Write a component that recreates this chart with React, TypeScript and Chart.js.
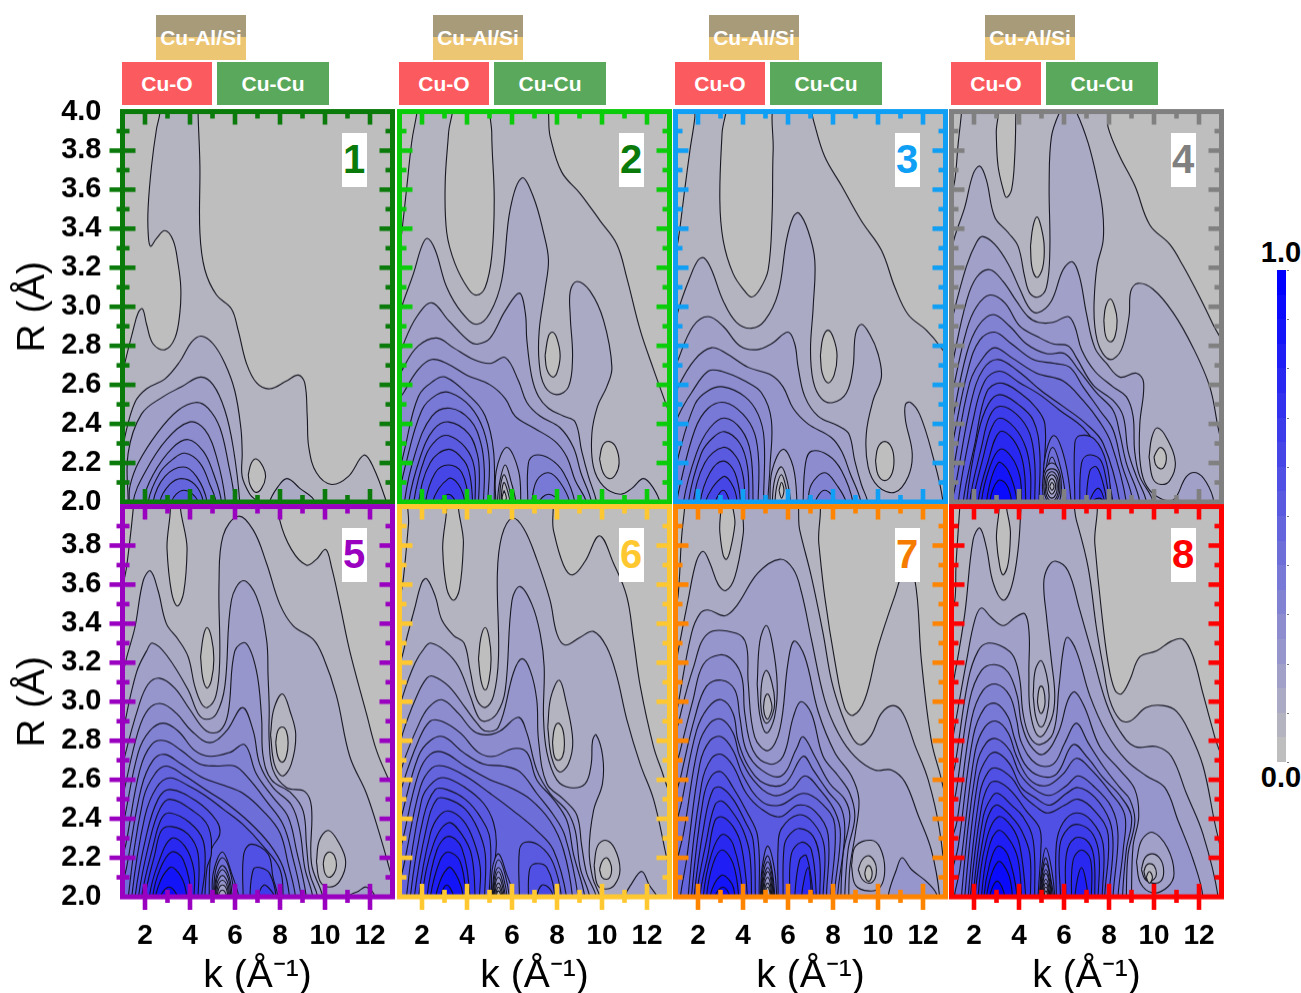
import React, { useEffect, useRef } from "react";
import { Chart, registerables } from "chart.js";
Chart.register(...registerables);

// each contour: [level, k, R, k, R, ...]; first pair repeated at the end = closed loop
const contours1: number[][] = [
[1,0.9,2.6,1.10,2.71,1.47,2.88,1.70,2.97,1.89,2.99,2.07,2.91,2.36,2.81,2.88,2.78,3.33,2.84,3.55,2.97,3.59,3.10,3.47,3.22,3.25,3.34,2.88,3.39,2.51,3.35,2.24,3.31,2.14,3.38,2.14,3.51,2.29,3.72,2.51,3.91,2.66,3.99,2.69,4.06,4.37,4.06,4.36,3.99,4.44,3.72,4.44,3.38,4.66,3.19,5.18,3.06,5.84,2.99,6.14,2.88,6.51,2.71,6.96,2.61,7.55,2.58,8.29,2.62,8.81,2.65,9.10,2.61,9.21,2.44,9.28,2.28,9.62,2.15,10.29,2.09,11.03,2.13,11.73,2.24,12.14,2.18,12.73,2.00,12.8,1.95],
[0,6.59,2.14,6.73,2.20,6.96,2.22,7.25,2.18,7.36,2.13,7.18,2.07,6.91,2.05,6.66,2.09,6.59,2.14],
[2,0.95,2.2,1.10,2.33,1.55,2.51,2.07,2.58,2.88,2.63,3.55,2.72,4.07,2.82,4.51,2.85,5.03,2.81,5.55,2.71,5.99,2.57,6.26,2.38,6.32,2.25,6.32,2.13,6.66,2.04,7.03,1.99],
[2,7.52,1.99,7.92,2.08,8.32,2.12,8.88,2.07,9.55,2.00],
[3,1.25,2.0,1.25,2.25,1.84,2.45,2.81,2.54,3.62,2.59,4.47,2.64,5.03,2.60,5.55,2.47,5.92,2.28,6.21,2.00],
[4,1.3,2.0,1.33,2.08,1.70,2.20,2.59,2.36,3.47,2.47,4.26,2.51,4.81,2.48,5.33,2.38,5.70,2.20,5.99,2.00],
[5,1.47,2.0,1.99,2.15,2.96,2.32,3.99,2.41,4.66,2.37,5.18,2.23,5.58,2.00],
[6,1.92,2.0,2.36,2.14,3.25,2.28,3.92,2.32,4.59,2.26,5.03,2.15,5.40,2.00],
[7,2.14,2.0,2.66,2.15,3.25,2.22,3.77,2.25,4.44,2.20,4.88,2.09,5.15,2.00],
[8,2.36,2.0,2.88,2.13,3.70,2.18,4.29,2.13,4.76,2.00],
[9,2.66,2.0,3.10,2.09,3.62,2.12,4.21,2.09,4.59,2.00],
[10,3.18,2.0,3.73,2.06,4.36,2.00],
];

const contours2: number[][] = [
[1,0.9,3.2,1.10,3.38,1.33,3.62,1.55,3.85,1.77,3.99,1.84,4.06,3.28,4.06,3.18,3.89,3.03,3.63,3.10,3.38,3.47,3.22,4.07,3.09,4.44,3.06,4.81,3.10,5.10,3.26,5.21,3.55,5.10,3.89,5.18,4.06,7.37,4.06,7.70,3.87,8.21,3.69,9.03,3.58,9.92,3.44,10.66,3.32,11.10,3.15,11.70,2.88,12.29,2.68,12.88,2.49,13.3,2.35],
[2,0.9,2.9,1.10,3.00,1.62,3.17,1.99,3.31,2.24,3.35,2.59,3.29,3.10,3.10,3.77,2.97,4.44,2.91,5.03,2.97,5.55,3.14,5.92,3.50,6.44,3.66,6.96,3.56,7.40,3.38,7.62,3.24,7.47,3.09,7.21,2.88,7.21,2.71,7.47,2.59,7.99,2.55,8.51,2.59,8.69,2.74,8.59,2.95,8.59,3.08,8.88,3.13,9.47,3.08,10.07,2.93,10.44,2.69,10.21,2.59,9.80,2.49,9.55,2.35,9.62,2.18,10.07,2.08,10.81,2.04,11.33,2.07,11.84,2.12,12.29,2.07,12.58,1.99],
[0,7.47,2.75,7.62,2.85,7.80,2.87,7.99,2.84,8.14,2.75,7.99,2.66,7.80,2.64,7.55,2.68,7.47,2.75],
[0,9.89,2.22,10.03,2.29,10.32,2.31,10.62,2.28,10.76,2.20,10.6,2.14,10.32,2.12,10.05,2.15,9.89,2.22],
[3,0.9,2.7,1.18,2.81,1.77,2.95,2.44,3.02,3.18,2.93,4.14,2.82,4.51,2.81,5.03,2.84,5.70,2.98,6.33,3.07,6.59,2.97,6.66,2.83,6.88,2.64,7.18,2.54,7.62,2.48,8.29,2.44,8.81,2.41,9.10,2.26,9.40,2.13,9.77,1.99],
[4,0.9,2.6,1.18,2.69,1.84,2.80,2.66,2.84,3.40,2.79,4.29,2.73,5.03,2.71,5.70,2.74,6.29,2.62,6.66,2.51,7.25,2.44,8.14,2.38,8.73,2.28,9.06,2.15,9.55,1.99],
[5,0.9,2.5,1.18,2.56,1.84,2.68,2.44,2.73,3.10,2.71,3.99,2.65,5.03,2.60,5.70,2.53,6.14,2.44,6.96,2.38,7.92,2.31,8.44,2.23,8.81,2.11,9.33,1.99],
[6,0.95,2.1,1.25,2.28,1.84,2.54,2.51,2.62,3.03,2.64,4.14,2.54,4.81,2.44,5.18,2.26,5.21,1.99],
[6,6.70,1.99,6.73,2.20,7.03,2.24,7.70,2.22,8.29,2.15,8.81,1.99],
[7,0.95,2.0,1.25,2.18,1.99,2.47,2.66,2.55,3.25,2.56,4.14,2.49,4.73,2.37,4.99,2.21,4.92,1.99],
[7,6.88,1.99,7.10,2.11,7.62,2.15,8.14,2.10,8.58,1.99],
[8,1.21,1.99,1.70,2.25,2.44,2.44,3.25,2.48,4.14,2.42,4.62,2.30,4.77,2.16,4.73,1.99],
[8,7.18,1.99,7.62,2.04,8.14,1.99],
[9,1.40,1.99,1.92,2.23,2.51,2.37,3.18,2.41,4.07,2.35,4.47,2.24,4.55,2.13,4.51,1.99],
[10,1.62,1.99,2.14,2.23,2.66,2.32,3.18,2.34,3.92,2.28,4.32,2.18,4.36,1.99],
[11,1.84,1.99,2.36,2.20,3.18,2.27,3.88,2.21,4.14,2.13,4.25,1.99],
[12,2.14,1.99,2.59,2.15,3.18,2.19,3.77,2.15,4.07,1.99],
[13,2.44,1.99,3.18,2.12,3.62,2.09,3.92,1.99],
[14,2.81,1.99,3.18,2.04,3.51,1.99],
[4,5.28,1.99,5.30,2.16,5.77,2.28,6.29,2.16,6.39,1.99],
[3,5.35,1.99,5.45,2.10,5.70,2.19,5.97,2.10,6.18,1.99],
[2,5.45,1.99,5.5,2.09,5.65,2.14,5.85,2.08,6.0,1.99],
[1,5.52,1.99,5.55,2.06,5.65,2.10,5.82,2.05,5.92,1.99],
[0,5.65,2.06,5.75,2.02,5.65,2.0,5.56,2.02,5.65,2.06],
];

const contours3: number[][] = [
[1,0.9,3.2,1.12,3.34,1.41,3.60,1.64,3.80,1.86,3.97,1.89,4.06,3.19,4.06,3.07,3.89,2.97,3.55,3.12,3.34,3.56,3.17,4.08,3.08,4.38,3.05,4.75,3.09,5.12,3.19,5.29,3.46,5.34,3.80,5.49,4.06,6.89,4.06,7.12,3.96,7.63,3.77,8.38,3.62,9.26,3.44,10.15,3.29,10.75,3.10,11.34,2.96,12.15,2.88,12.74,2.80,13.3,2.69],
[2,0.9,2.85,1.12,2.98,1.64,3.15,2.01,3.24,2.27,3.25,2.60,3.19,3.12,3.03,3.71,2.92,4.38,2.89,4.97,2.93,5.56,3.07,5.93,3.34,6.23,3.46,6.48,3.48,6.89,3.39,7.19,3.24,7.12,3.00,7.00,2.78,7.12,2.62,7.49,2.53,8.00,2.51,8.60,2.56,8.89,2.69,9.00,2.86,9.26,2.91,9.63,2.86,10.00,2.76,10.15,2.64,9.78,2.52,9.48,2.35,9.56,2.18,10.0,2.08,10.75,2.05,11.34,2.13,11.52,2.25,11.22,2.42,11.22,2.50,11.45,2.51,11.85,2.45,12.38,2.26,12.89,2.00],
[0,7.44,2.75,7.55,2.84,7.78,2.88,8.02,2.84,8.18,2.75,8.05,2.65,7.78,2.61,7.52,2.66,7.44,2.75],
[0,9.89,2.21,10.0,2.28,10.30,2.31,10.6,2.28,10.71,2.21,10.6,2.14,10.30,2.11,10.0,2.14,9.89,2.21],
[3,0.9,2.65,1.12,2.73,1.78,2.90,2.45,2.95,3.12,2.90,3.86,2.80,4.60,2.78,5.26,2.81,6.00,2.87,6.30,2.81,6.45,2.69,6.75,2.54,7.34,2.44,8.23,2.39,8.70,2.35,8.97,2.21,9.26,2.09,9.56,1.99],
[4,0.9,2.5,1.12,2.59,1.86,2.73,2.60,2.79,3.27,2.76,4.23,2.69,5.26,2.65,5.78,2.59,6.23,2.48,6.89,2.40,7.93,2.33,8.38,2.26,8.75,2.15,9.26,1.99],
[5,0.9,2.35,1.12,2.44,1.71,2.56,2.45,2.67,3.04,2.67,4.08,2.62,4.82,2.56,5.26,2.42,5.2,2.18,5.1,1.99],
[5,6.67,1.99,6.78,2.20,7.04,2.26,7.78,2.24,8.38,2.16,8.90,1.99],
[6,0.95,2.1,1.12,2.23,1.86,2.50,2.45,2.57,3.12,2.59,4.08,2.54,4.67,2.45,4.94,2.32,4.91,1.99],
[6,6.89,1.99,7.04,2.09,7.63,2.15,8.15,2.09,8.60,1.99],
[7,1.0,1.95,1.19,2.08,1.86,2.37,2.45,2.48,3.19,2.51,4.00,2.45,4.52,2.35,4.70,2.20,4.67,1.99],
[7,7.19,1.99,7.63,2.06,8.15,1.99],
[8,1.34,1.99,1.93,2.25,2.53,2.38,3.19,2.43,3.93,2.37,4.34,2.25,4.45,1.99],
[9,1.56,1.99,2.15,2.25,2.67,2.33,3.19,2.36,3.86,2.30,4.20,2.18,4.26,1.99],
[10,1.78,1.99,2.30,2.20,3.12,2.28,3.71,2.23,4.01,2.13,4.08,1.99],
[11,2.08,1.99,2.53,2.15,3.12,2.21,3.64,2.15,3.90,1.99],
[12,2.30,1.99,3.12,2.13,3.56,2.08,3.75,1.99],
[13,2.75,1.99,3.12,2.06,3.41,1.99],
[3,5.2,1.99,5.29,2.16,5.78,2.27,6.23,2.18,6.40,1.99],
[2,5.30,1.99,5.42,2.12,5.71,2.18,5.98,2.10,6.12,1.99],
[1,5.42,1.99,5.5,2.08,5.71,2.14,5.92,2.07,6.0,1.99],
[0,5.6,2.06,5.71,2.10,5.82,2.06,5.71,2.02,5.6,2.06],
];

const contours4: number[][] = [
[1,0.9,3.5,1.15,3.65,1.30,3.84,1.44,3.99,1.47,4.06,2.99,4.06,2.99,3.89,3.07,3.72,3.30,3.60,3.44,3.56,3.67,3.60,3.81,3.77,3.86,3.99,3.86,4.06,7.81,4.06,7.96,3.92,8.48,3.77,9.15,3.62,9.81,3.42,10.70,3.32,11.29,3.21,12.03,3.05,12.62,2.91,13.2,2.76],
[2,0.9,3.2,1.10,3.34,1.59,3.51,1.96,3.68,2.26,3.72,2.55,3.65,2.92,3.46,3.52,3.38,3.96,3.31,4.26,3.15,4.48,3.07,4.85,3.05,5.22,3.10,5.37,3.29,5.34,3.63,5.44,3.87,5.78,3.99,6.18,4.06,6.58,3.99,7.07,3.84,7.44,3.67,7.71,3.50,7.74,3.34,7.47,3.21,7.34,3.03,7.37,2.90,7.59,2.79,8.06,2.73,8.55,2.78,8.89,2.95,8.97,3.08,9.29,3.12,9.96,3.09,10.85,2.97,11.74,2.79,12.48,2.59,12.85,2.38,13.07,2.26,13.2,2.1],
[0,4.51,3.31,4.62,3.41,4.80,3.46,4.98,3.41,5.12,3.31,5.05,3.2,4.80,3.15,4.58,3.2,4.51,3.31],
[0,7.77,2.93,7.85,3.0,8.06,3.04,8.25,3.0,8.36,2.93,8.27,2.85,8.06,2.82,7.85,2.85,7.77,2.93],
[3,0.9,2.85,1.10,2.97,1.67,3.21,2.11,3.33,2.38,3.36,2.92,3.32,3.52,3.22,4.04,3.09,4.48,2.99,4.85,2.97,5.44,3.03,5.96,3.19,6.38,3.23,6.70,3.15,6.99,2.97,7.37,2.79,7.89,2.71,8.48,2.64,9.22,2.66,9.54,2.61,9.37,2.40,9.37,2.22,9.59,2.10,10.11,2.03,10.85,2.01,11.44,2.13,11.88,2.15,12.33,2.10,12.66,2.00],
[1,9.78,2.23,9.90,2.33,10.15,2.38,10.6,2.32,10.95,2.2,10.7,2.11,10.3,2.09,9.95,2.12,9.78,2.23],
[0,10.0,2.23,10.12,2.26,10.28,2.28,10.48,2.26,10.55,2.22,10.45,2.18,10.28,2.17,10.08,2.19,10.0,2.23],
[4,0.9,2.6,1.10,2.74,1.67,3.03,2.11,3.15,2.70,3.19,3.29,3.13,3.88,3.03,4.40,2.95,4.85,2.92,5.52,2.92,6.18,2.95,6.48,2.90,6.78,2.78,7.37,2.67,8.18,2.59,8.77,2.54,9.07,2.44,9.14,2.26,9.37,2.13,9.96,2.00],
[5,0.9,2.45,1.10,2.59,1.67,2.88,2.11,3.00,2.70,3.06,3.37,3.02,4.04,2.90,4.78,2.85,5.52,2.81,6.18,2.80,6.55,2.74,7.29,2.60,8.18,2.52,8.63,2.44,8.85,2.26,9.22,2.13,9.66,2.00],
[6,0.9,2.3,1.10,2.45,1.67,2.76,2.18,2.90,2.85,2.96,3.59,2.90,4.33,2.81,5.22,2.76,6.03,2.76,6.63,2.68,7.44,2.56,8.18,2.47,8.48,2.35,8.77,2.20,9.37,2.00],
[7,0.9,2.2,1.10,2.33,1.74,2.68,2.26,2.83,2.92,2.87,3.67,2.81,4.63,2.73,5.59,2.71,6.26,2.69,6.85,2.59,7.59,2.47,8.18,2.37,8.55,2.20,9.07,2.00],
[8,0.95,2.05,1.15,2.21,1.81,2.61,2.41,2.74,2.92,2.79,3.67,2.74,4.78,2.66,5.96,2.62,6.85,2.52,7.59,2.41,8.10,2.30,8.77,2.00],
[9,1.0,1.98,1.19,2.09,1.89,2.52,2.41,2.68,3.07,2.73,3.96,2.67,4.99,2.57,5.96,2.49,6.99,2.40,7.74,2.30,8.48,2.00],
[10,1.30,2.00,1.96,2.42,2.48,2.62,3.15,2.67,4.04,2.61,4.92,2.55,5.81,2.47,6.85,2.38,7.59,2.25,8.18,2.00],
[11,1.52,2.00,2.04,2.30,2.55,2.56,3.15,2.61,4.04,2.56,4.78,2.48,5.15,2.40,5.12,2.18,5.07,2.00],
[11,6.48,2.00,6.48,2.30,6.70,2.34,7.37,2.32,7.89,2.20,8.10,2.00],
[12,1.67,2.00,2.18,2.35,2.63,2.50,3.15,2.55,3.96,2.50,4.63,2.42,4.92,2.26,4.89,2.00],
[12,6.70,2.00,6.78,2.20,7.07,2.24,7.59,2.22,7.85,2.13,8.0,2.00],
[13,1.81,2.00,2.33,2.28,2.70,2.44,3.15,2.49,3.89,2.45,4.48,2.35,4.70,2.20,4.70,2.00],
[13,6.99,2.00,7.15,2.16,7.44,2.18,7.75,2.09,7.89,2.00],
[14,1.96,2.00,2.41,2.23,2.78,2.38,3.15,2.43,3.81,2.38,4.30,2.28,4.51,2.15,4.51,2.00],
[14,7.15,2.00,7.52,2.07,7.80,2.00],
[15,2.18,2.00,2.63,2.21,3.15,2.36,3.74,2.32,4.18,2.20,4.30,2.00],
[15,7.29,2.00,7.56,2.02,7.75,2.00],
[16,2.33,2.00,2.70,2.18,3.15,2.27,3.67,2.23,4.04,2.13,4.11,2.00],
[17,2.55,2.00,3.07,2.20,3.52,2.16,3.92,2.00],
[18,2.70,2.00,3.07,2.11,3.44,2.09,3.67,2.00],
[9,5.1,1.98,5.13,2.21,5.55,2.34,6.05,2.21,6.33,1.98],
[8,5.15,1.98,5.18,2.15,5.5,2.28,5.9,2.15,6.1,1.98],
[7,5.18,1.98,5.2,2.12,5.47,2.23,5.8,2.12,5.97,1.98],
[6,5.04,2.08,5.14,2.16,5.46,2.20,5.78,2.16,5.88,2.08,5.78,2.0,5.46,1.97,5.14,2.0,5.04,2.08],
[5,5.10,2.08,5.19,2.15,5.46,2.17,5.73,2.15,5.82,2.08,5.73,2.02,5.46,1.99,5.19,2.02,5.10,2.08],
[4,5.16,2.08,5.23,2.13,5.46,2.155,5.69,2.13,5.76,2.08,5.69,2.03,5.46,2.005,5.23,2.03,5.16,2.08],
[3,5.22,2.08,5.28,2.12,5.46,2.14,5.64,2.12,5.70,2.08,5.64,2.04,5.46,2.02,5.28,2.04,5.22,2.08],
[2,5.29,2.08,5.34,2.105,5.46,2.12,5.58,2.105,5.63,2.08,5.58,2.055,5.46,2.04,5.34,2.055,5.29,2.08],
[1,5.36,2.08,5.46,2.10,5.56,2.08,5.46,2.06,5.36,2.08],
];

const contours5: number[][] = [
[1,0.9,3.5,1.18,3.69,1.47,3.98,1.50,4.06,2.98,4.06,2.98,3.78,3.18,3.56,3.44,3.49,3.72,3.56,3.87,3.78,3.81,4.06,7.92,4.06,7.99,3.93,8.51,3.78,9.18,3.70,9.62,3.73,10.03,3.78,10.29,3.69,10.66,3.50,11.10,3.26,11.84,2.94,12.29,2.75,12.80,2.61,13.3,2.50],
[2,0.9,3.05,1.15,3.21,1.55,3.38,1.92,3.62,2.24,3.67,2.58,3.57,2.95,3.40,3.47,3.32,3.92,3.23,4.21,3.08,4.51,2.99,4.78,2.97,5.15,3.03,5.32,3.21,5.29,3.61,5.47,3.85,6.14,3.95,6.81,3.88,7.40,3.71,7.99,3.50,8.58,3.39,9.47,3.32,9.92,3.23,10.51,3.03,11.10,2.72,11.84,2.53,12.43,2.32,12.85,2.15,13.2,2.00],
[0,4.47,3.23,4.60,3.34,4.76,3.38,4.95,3.33,5.06,3.22,4.95,3.11,4.76,3.07,4.57,3.12,4.47,3.23],
[3,0.9,2.75,1.10,2.89,1.62,3.15,2.07,3.26,2.33,3.30,2.95,3.24,3.92,3.06,4.36,2.94,4.73,2.91,5.18,2.94,5.55,3.08,5.84,3.52,6.36,3.62,6.95,3.54,7.40,3.32,7.47,3.13,7.52,2.97,7.52,2.80,7.69,2.65,8.29,2.56,9.10,2.54,9.40,2.46,9.40,2.17,9.92,1.99],
[3,10.95,1.99,11.5,2.03,11.84,2.05,12.21,2.00],
[1,7.58,2.83,7.72,2.96,8.11,3.04,8.45,2.95,8.70,2.83,8.50,2.68,8.11,2.62,7.75,2.68,7.58,2.83],
[0,7.81,2.79,7.9,2.85,8.10,2.87,8.28,2.85,8.36,2.79,8.28,2.72,8.10,2.69,7.9,2.72,7.81,2.79],
[1,9.62,2.18,9.75,2.29,10.15,2.34,10.6,2.28,10.92,2.18,10.65,2.08,10.2,2.05,9.78,2.08,9.62,2.18],
[0,9.92,2.17,10.0,2.21,10.19,2.23,10.42,2.21,10.51,2.16,10.4,2.12,10.19,2.10,10.0,2.12,9.92,2.17],
[4,0.9,2.6,1.10,2.72,1.70,2.97,2.14,3.09,2.66,3.12,3.32,3.07,3.99,2.96,4.73,2.85,5.32,2.85,5.69,2.94,5.99,3.26,6.48,3.30,6.95,3.16,7.18,2.92,7.25,2.72,7.62,2.60,8.51,2.53,9.03,2.44,9.18,2.26,9.32,2.12,9.69,1.99],
[5,0.9,2.45,1.10,2.56,1.70,2.85,2.14,2.96,2.73,2.99,3.40,2.94,4.07,2.85,4.88,2.79,5.62,2.85,6.33,2.97,6.81,2.85,7.10,2.68,7.69,2.56,8.51,2.47,8.88,2.34,9.10,2.15,9.47,1.99],
[6,0.9,2.3,1.10,2.41,1.70,2.74,2.21,2.85,2.81,2.89,3.47,2.85,4.21,2.75,4.88,2.72,5.77,2.74,6.43,2.78,6.95,2.63,7.69,2.51,8.36,2.41,8.73,2.24,9.18,1.99],
[7,0.9,2.15,1.15,2.27,1.77,2.65,2.29,2.78,2.88,2.80,3.62,2.75,4.44,2.68,5.25,2.67,5.99,2.67,6.58,2.61,7.40,2.49,8.14,2.37,8.55,2.21,8.95,1.99],
[8,0.95,2.03,1.18,2.15,1.84,2.56,2.36,2.70,2.88,2.73,3.62,2.68,4.58,2.61,5.55,2.57,6.36,2.53,7.25,2.44,7.99,2.33,8.36,2.17,8.70,1.99],
[9,1.25,1.99,1.92,2.50,2.44,2.63,2.95,2.67,3.77,2.62,4.81,2.54,5.62,2.48,6.66,2.38,7.54,2.27,8.14,2.15,8.43,1.99],
[10,1.40,1.99,1.99,2.41,2.51,2.56,3.10,2.61,3.92,2.57,4.66,2.52,5.47,2.45,6.36,2.37,7.25,2.26,8.0,2.14,8.14,1.99],
[11,1.55,1.99,2.07,2.32,2.58,2.50,3.10,2.55,4.29,2.49,5.18,2.39,5.32,2.32,4.95,2.24,4.85,1.99],
[11,6.36,1.99,6.39,2.22,6.73,2.27,7.47,2.22,7.69,2.10,7.92,1.99],
[12,1.70,1.99,2.21,2.29,2.66,2.45,3.10,2.50,4.14,2.44,4.81,2.36,4.95,2.22,4.76,2.15,4.66,1.99],
[12,6.66,1.99,6.81,2.14,7.10,2.15,7.54,2.12,7.84,1.99],
[13,1.84,1.99,2.36,2.26,2.73,2.40,3.10,2.43,3.99,2.38,4.58,2.29,4.66,2.14,4.51,1.99],
[13,7.03,1.99,7.28,2.06,7.62,2.03,7.77,1.99],
[14,1.99,1.99,2.44,2.22,2.73,2.34,3.18,2.36,3.92,2.32,4.36,2.22,4.36,1.99],
[15,2.18,1.99,2.58,2.17,3.18,2.30,3.77,2.26,4.17,2.14,4.18,1.99],
[16,2.33,1.99,2.66,2.14,3.18,2.23,3.70,2.19,4.07,1.99],
[17,2.44,1.99,3.10,2.15,3.62,2.10,3.87,1.99],
[18,2.66,1.99,3.07,2.05,3.47,1.99],
[9,5.0,1.98,5.03,2.12,5.44,2.23,5.85,2.12,6.2,1.98],
[8,5.05,1.98,5.13,2.13,5.44,2.20,5.78,2.13,5.98,1.98],
[7,5.08,1.98,5.16,2.10,5.44,2.16,5.75,2.10,5.88,1.98],
[6,5.11,1.98,5.19,2.09,5.44,2.14,5.71,2.09,5.82,1.98],
[5,5.14,1.98,5.21,2.07,5.44,2.11,5.68,2.07,5.76,1.98],
[4,5.17,1.98,5.24,2.055,5.44,2.085,5.65,2.055,5.72,1.98],
[3,5.2,1.98,5.27,2.04,5.44,2.06,5.62,2.04,5.69,1.98],
[2,5.24,1.98,5.3,2.02,5.44,2.035,5.58,2.02,5.65,1.98],
];

const contours6: number[][] = [
[1,0.9,3.4,1.18,3.64,1.40,3.91,1.50,4.06,2.96,4.06,2.92,3.78,3.10,3.58,3.40,3.52,3.67,3.58,3.84,3.81,3.84,4.06,7.59,4.06,7.84,3.88,8.29,3.70,8.70,3.65,9.25,3.72,9.89,3.85,10.51,3.71,11.10,3.54,11.40,3.32,11.70,3.08,12.29,2.77,12.73,2.62,13.3,2.39],
[2,0.9,3.1,1.18,3.26,1.70,3.49,1.99,3.61,2.21,3.63,2.59,3.54,2.88,3.42,3.40,3.34,3.87,3.30,4.14,3.16,4.44,3.01,4.81,2.97,5.18,3.03,5.40,3.23,5.35,3.66,5.55,3.85,6.0,3.94,6.51,3.89,7.10,3.73,7.69,3.52,7.99,3.35,8.36,3.29,9.03,3.33,9.62,3.36,10.21,3.28,10.66,3.13,11.10,2.91,11.70,2.68,12.29,2.50,12.80,2.24,13.2,2.00],
[0,4.51,3.22,4.62,3.33,4.81,3.38,4.98,3.33,5.07,3.22,4.98,3.11,4.81,3.06,4.62,3.11,4.51,3.22],
[3,0.9,2.9,1.15,3.03,1.70,3.20,2.14,3.28,2.39,3.30,3.03,3.26,3.62,3.18,4.14,3.03,4.51,2.92,4.81,2.90,5.33,2.94,5.70,3.06,6.0,3.52,6.36,3.59,6.88,3.50,7.25,3.35,7.43,3.18,7.40,2.92,7.55,2.74,7.99,2.60,8.58,2.56,9.25,2.58,9.52,2.68,9.58,2.80,9.74,2.83,10.03,2.72,10.02,2.58,9.62,2.44,9.43,2.24,9.58,2.10,9.92,1.99],
[3,10.99,1.99,11.33,2.07,11.77,2.13,12.1,2.06,12.47,1.99],
[1,7.59,2.87,7.72,3.02,8.10,3.11,8.40,3.0,8.70,2.80,8.50,2.68,8.10,2.64,7.75,2.72,7.59,2.87],
[0,7.80,2.79,7.88,2.86,8.05,2.89,8.25,2.86,8.33,2.78,8.25,2.72,8.05,2.70,7.88,2.72,7.80,2.79],
[1,9.65,2.16,9.8,2.26,10.15,2.29,10.55,2.25,10.80,2.14,10.55,2.06,10.15,2.04,9.8,2.06,9.65,2.16],
[0,9.89,2.14,10.0,2.18,10.19,2.20,10.35,2.18,10.43,2.14,10.35,2.1,10.19,2.09,10.0,2.1,9.89,2.14],
[4,0.9,2.7,1.15,2.84,1.77,3.03,2.21,3.12,2.51,3.13,3.18,3.08,3.92,2.97,4.44,2.89,4.81,2.85,5.40,2.87,6.07,3.15,6.44,3.22,6.81,3.16,7.10,3.01,7.18,2.80,7.55,2.58,8.29,2.50,8.88,2.42,9.10,2.26,9.32,2.12,9.77,1.99],
[5,0.9,2.55,1.15,2.68,1.84,2.88,2.29,2.97,2.88,3.01,3.62,2.94,4.29,2.85,4.88,2.83,5.47,2.85,6.29,2.92,6.66,2.84,7.10,2.65,7.69,2.53,8.44,2.44,8.81,2.34,9.03,2.15,9.47,1.99],
[6,0.9,2.45,1.15,2.58,1.84,2.80,2.36,2.90,2.88,2.90,3.70,2.84,4.51,2.74,5.18,2.72,6.07,2.76,6.66,2.74,7.10,2.60,7.84,2.50,8.44,2.39,8.73,2.22,9.25,1.99],
[7,0.9,2.3,1.15,2.44,1.84,2.72,2.36,2.80,2.96,2.82,3.84,2.74,4.73,2.68,5.62,2.67,6.36,2.64,7.10,2.53,7.84,2.42,8.36,2.31,8.95,1.99],
[8,0.9,2.15,1.18,2.31,1.84,2.63,2.36,2.73,2.96,2.74,3.92,2.67,5.03,2.60,5.92,2.56,6.81,2.50,7.69,2.39,8.29,2.24,8.70,1.99],
[9,0.95,2.03,1.21,2.17,1.92,2.56,2.44,2.66,2.96,2.67,3.92,2.62,5.03,2.53,6.07,2.44,7.10,2.34,7.84,2.24,8.44,1.99],
[10,1.30,1.99,1.99,2.50,2.51,2.59,3.03,2.61,3.92,2.56,4.73,2.48,5.18,2.38,5.30,2.26,5.03,1.99],
[10,6.33,1.99,6.33,2.24,6.58,2.28,7.25,2.26,7.84,2.17,8.21,1.99],
[11,1.47,1.99,2.07,2.41,2.59,2.55,3.10,2.55,3.92,2.50,4.59,2.41,5.03,2.29,4.98,1.99],
[11,6.73,1.99,6.78,2.14,7.03,2.17,7.55,2.15,7.92,1.99],
[12,1.65,1.99,2.21,2.36,2.66,2.50,3.18,2.50,3.92,2.45,4.47,2.35,4.81,2.22,4.78,1.99],
[12,7.10,1.99,7.33,2.06,7.69,2.04,7.84,1.99],
[13,1.84,1.99,2.36,2.32,2.73,2.41,3.18,2.44,3.84,2.39,4.29,2.29,4.59,2.15,4.55,1.99],
[14,1.99,1.99,2.51,2.27,3.18,2.38,3.77,2.32,4.21,2.21,4.36,1.99],
[15,2.21,1.99,2.66,2.24,3.18,2.31,3.77,2.25,4.14,1.99],
[16,2.36,1.99,2.81,2.19,3.18,2.23,3.70,2.18,3.96,1.99],
[17,2.59,1.99,3.18,2.15,3.62,2.09,3.84,1.99],
[18,2.81,1.99,3.10,2.06,3.43,1.99],
[8,5.10,1.98,5.12,2.14,5.40,2.22,5.75,2.12,6.14,1.98],
[7,5.13,1.98,5.2,2.12,5.40,2.19,5.68,2.12,5.9,1.98],
[6,5.15,1.98,5.22,2.10,5.40,2.15,5.62,2.10,5.8,1.98],
[5,5.17,1.98,5.24,2.08,5.40,2.13,5.58,2.08,5.72,1.98],
[4,5.2,1.98,5.26,2.065,5.40,2.10,5.55,2.065,5.67,1.98],
[3,5.22,1.98,5.28,2.045,5.40,2.07,5.52,2.045,5.62,1.98],
[2,5.25,1.98,5.31,2.03,5.40,2.05,5.5,2.03,5.58,1.98],
[1,5.28,1.98,5.33,2.02,5.40,2.03,5.47,2.02,5.53,1.98],
];

const contours7: number[][] = [
[1,0.9,3.4,1.12,3.55,1.27,3.84,1.42,4.01,1.44,4.06,2.87,4.06,2.97,3.87,3.12,3.75,3.27,3.73,3.44,3.78,3.64,3.91,3.67,4.06,7.16,4.06,7.37,3.81,7.63,3.54,8.08,3.21,8.52,2.97,8.89,2.93,9.41,3.01,10.00,3.28,10.74,3.54,11.19,3.67,11.63,3.63,11.93,3.21,12.37,2.80,12.82,2.60,13.3,2.32],
[2,0.9,3.1,1.09,3.24,1.56,3.52,1.93,3.72,2.23,3.77,2.53,3.71,2.90,3.60,3.24,3.57,3.64,3.64,4.01,3.86,4.15,4.06,6.23,4.06,6.52,3.88,7.04,3.64,7.56,3.35,7.93,3.11,8.38,2.94,8.89,2.81,9.26,2.78,9.71,2.83,10.15,2.94,10.67,2.98,11.11,2.94,11.63,2.78,12.23,2.60,12.74,2.34,13.04,2.00],
[3,0.9,2.85,1.09,2.97,1.71,3.35,2.08,3.45,2.45,3.47,3.19,3.44,3.71,3.49,4.67,3.66,5.64,3.73,6.23,3.68,6.60,3.56,7.04,3.32,7.63,3.01,8.23,2.84,8.97,2.72,9.86,2.65,10.60,2.65,11.19,2.59,11.78,2.42,12.37,2.24,12.74,2.00],
[4,0.9,2.75,1.15,2.90,1.78,3.17,2.45,3.35,3.71,3.35,4.15,3.29,4.23,3.10,4.52,2.82,5.12,2.75,5.64,2.86,6.00,3.20,6.27,3.31,6.75,3.23,7.34,2.95,8.08,2.74,8.82,2.62,9.15,2.50,9.0,2.33,8.75,2.15,8.70,1.99],
[4,10.45,2.00,10.82,2.14,11.07,2.20,11.49,2.14,12.23,2.07,12.64,2.00],
[3,4.63,3.09,4.75,3.31,5.04,3.39,5.3,3.3,5.52,3.09,5.4,2.92,5.04,2.84,4.75,2.93,4.63,3.09],
[2,4.78,3.0,4.85,3.11,5.04,3.16,5.28,3.1,5.41,3.0,5.3,2.93,5.04,2.89,4.85,2.93,4.78,3.0],
[1,4.91,2.97,4.97,3.02,5.09,3.04,5.2,3.02,5.29,2.97,5.2,2.93,5.09,2.91,4.97,2.93,4.91,2.97],
[2,8.82,2.16,9.0,2.26,9.7,2.29,10.1,2.25,10.30,2.14,10.1,2.05,9.6,2.03,9.0,2.06,8.82,2.16],
[1,9.12,2.14,9.3,2.19,9.6,2.21,9.85,2.18,9.93,2.14,9.85,2.09,9.6,2.07,9.3,2.09,9.12,2.14],
[0,9.41,2.12,9.48,2.15,9.58,2.16,9.68,2.15,9.74,2.12,9.68,2.09,9.58,2.08,9.48,2.09,9.41,2.12],
[5,0.9,2.6,1.19,2.74,1.78,3.01,2.23,3.19,2.97,3.24,3.56,3.21,3.96,3.12,4.08,2.94,4.45,2.75,5.19,2.68,5.78,2.72,6.23,2.92,6.57,3.0,7.04,2.94,7.56,2.72,8.23,2.62,8.75,2.53,8.97,2.41,8.67,2.24,8.52,2.00],
[6,0.9,2.45,1.24,2.62,1.86,2.92,2.38,3.08,3.04,3.11,3.64,3.06,3.86,2.92,4.15,2.75,4.82,2.65,5.71,2.62,6.38,2.76,6.67,2.82,7.19,2.72,7.86,2.58,8.52,2.50,8.75,2.41,8.45,2.22,8.35,2.00],
[7,0.95,2.3,1.30,2.50,1.93,2.85,2.45,2.97,3.04,3.01,3.56,2.94,3.78,2.80,4.23,2.67,4.97,2.58,5.86,2.58,6.67,2.72,7.12,2.65,7.78,2.54,8.38,2.45,8.52,2.32,8.20,2.00],
[8,0.95,2.1,1.38,2.34,2.01,2.77,2.53,2.89,3.04,2.91,3.56,2.84,3.86,2.72,4.45,2.60,5.34,2.52,6.15,2.55,6.75,2.62,7.41,2.55,8.08,2.44,8.33,2.32,8.05,2.00],
[9,1.2,1.98,1.49,2.19,2.08,2.68,2.53,2.80,3.04,2.82,3.56,2.75,4.01,2.62,4.82,2.49,5.64,2.47,6.67,2.53,7.49,2.48,8.08,2.37,7.90,2.00],
[10,1.56,2.0,2.16,2.58,2.60,2.71,3.04,2.73,3.56,2.67,4.15,2.53,4.82,2.45,5.64,2.41,6.45,2.47,7.19,2.44,7.78,2.32,7.71,2.00],
[11,1.71,2.0,2.23,2.50,2.60,2.62,3.04,2.64,3.56,2.56,4.15,2.44,4.65,2.31,4.72,2.00],
[11,5.56,2.00,5.56,2.26,5.71,2.35,6.45,2.42,7.12,2.38,7.61,2.26,7.56,2.00],
[12,1.83,2.0,2.30,2.39,2.67,2.55,3.04,2.56,3.56,2.50,4.08,2.39,4.45,2.29,4.55,2.00],
[12,5.78,2.00,5.83,2.26,6.08,2.32,6.52,2.35,7.12,2.31,7.41,2.19,7.41,2.00],
[13,1.93,2.0,2.38,2.29,2.75,2.47,3.07,2.49,3.56,2.43,4.01,2.34,4.30,2.22,4.38,2.00],
[13,6.08,2.00,6.15,2.22,6.60,2.28,7.04,2.24,7.26,2.00],
[14,2.08,2.0,2.45,2.22,2.75,2.39,3.07,2.41,3.56,2.36,3.93,2.26,4.20,2.00],
[14,6.30,2.00,6.52,2.19,6.82,2.21,7.12,2.00],
[15,2.23,2.0,2.60,2.22,3.07,2.32,3.56,2.27,4.01,2.00],
[15,6.60,2.00,6.89,2.15,7.04,2.00],
[16,2.38,2.0,2.67,2.17,3.07,2.24,3.56,2.17,3.81,2.00],
[17,2.53,2.0,3.04,2.11,3.49,2.07,3.64,2.00],
[18,2.75,2.0,3.12,2.05,3.41,2.00],
[9,4.78,1.98,4.85,2.15,5.10,2.26,5.4,2.14,5.50,1.98],
[8,4.8,1.98,4.88,2.14,5.10,2.21,5.3,2.13,5.42,1.98],
[7,4.83,1.98,4.9,2.12,5.10,2.18,5.28,2.12,5.38,1.98],
[6,4.85,1.98,4.92,2.10,5.10,2.15,5.26,2.10,5.35,1.98],
[5,4.87,1.98,4.94,2.085,5.10,2.13,5.24,2.085,5.32,1.98],
[4,4.9,1.98,4.96,2.065,5.10,2.10,5.22,2.065,5.29,1.98],
[3,4.93,1.98,4.98,2.045,5.10,2.07,5.2,2.045,5.26,1.98],
[2,4.96,1.98,5.0,2.03,5.10,2.05,5.18,2.03,5.23,1.98],
];

const contours8: number[][] = [
[1,0.9,3.4,1.15,3.52,1.20,3.7,1.37,4.0,1.40,4.06,2.97,4.06,3.0,3.83,3.15,3.69,3.30,3.65,3.52,3.71,3.62,3.86,3.62,4.06,7.22,4.06,7.37,3.81,7.66,3.47,7.96,3.20,8.26,3.06,8.55,3.04,8.92,3.11,9.37,3.23,10.11,3.26,10.77,3.31,11.29,3.32,11.74,3.23,12.18,3.04,12.70,2.82,13.2,2.62],
[2,0.9,3.0,1.10,3.11,1.59,3.45,1.96,3.83,2.26,3.89,2.55,3.79,2.85,3.61,3.30,3.52,3.67,3.59,3.96,3.78,4.08,3.98,4.11,4.06,6.18,4.06,6.55,3.93,7.07,3.69,7.44,3.38,7.74,3.18,8.03,3.01,8.48,2.91,8.92,2.90,9.66,2.97,10.40,2.98,11.00,2.95,11.59,2.84,12.18,2.67,12.70,2.38,13.07,2.19,13.37,2.00],
[3,0.9,2.7,1.10,2.84,1.67,3.21,2.04,3.42,2.33,3.48,2.78,3.43,3.30,3.39,3.81,3.43,4.26,3.45,4.45,3.35,4.44,3.15,4.51,2.94,4.92,2.82,5.44,2.91,5.59,3.03,5.44,3.21,5.22,3.44,5.10,3.61,5.29,3.69,5.63,3.72,6.18,3.67,6.70,3.47,7.29,3.23,7.89,2.99,8.48,2.85,9.15,2.77,10.11,2.77,10.77,2.72,11.44,2.53,12.18,2.32,12.85,2.00],
[2,4.63,3.03,4.72,3.16,4.98,3.21,5.22,3.14,5.34,3.03,5.22,2.92,4.98,2.87,4.75,2.92,4.63,3.03],
[1,4.82,3.0,4.88,3.06,4.98,3.08,5.1,3.06,5.16,3.0,5.1,2.96,4.98,2.94,4.88,2.96,4.82,3.0],
[4,0.9,2.55,1.15,2.67,1.74,3.11,2.18,3.26,2.63,3.30,3.30,3.28,3.77,3.23,4.04,3.11,4.18,2.94,4.48,2.82,4.92,2.78,5.52,2.84,5.78,3.08,5.96,3.26,6.14,3.33,6.55,3.26,7.15,3.03,7.89,2.84,8.77,2.70,9.66,2.62,10.48,2.56,11.07,2.39,11.74,2.19,12.18,2.00],
[3,9.22,2.18,9.45,2.29,9.95,2.33,10.6,2.25,10.89,2.12,10.6,2.05,9.95,2.02,9.4,2.07,9.22,2.18],
[2,9.44,2.14,9.6,2.2,9.95,2.22,10.3,2.19,10.43,2.13,10.3,2.08,9.95,2.07,9.6,2.09,9.44,2.14],
[1,9.55,2.13,9.65,2.16,9.8,2.17,10.0,2.16,10.11,2.12,10.0,2.09,9.8,2.08,9.65,2.09,9.55,2.13],
[0,9.66,2.10,9.72,2.12,9.79,2.13,9.88,2.12,9.93,2.10,9.88,2.08,9.79,2.07,9.72,2.08,9.66,2.10],
[5,0.9,2.4,1.19,2.53,1.81,3.01,2.33,3.16,2.92,3.19,3.52,3.15,3.92,3.03,4.11,2.89,4.48,2.78,5.07,2.73,5.74,2.84,6.18,3.01,6.48,3.05,6.92,2.97,7.59,2.77,8.48,2.65,9.15,2.55,9.32,2.41,9.07,2.26,9.0,2.00],
[6,0.95,2.25,1.25,2.39,1.89,2.91,2.41,3.06,3.0,3.09,3.59,3.03,3.89,2.91,4.11,2.79,4.78,2.68,5.52,2.68,6.04,2.79,6.55,2.89,7.07,2.79,7.74,2.67,8.48,2.56,8.92,2.50,9.15,2.39,8.85,2.22,8.77,2.00],
[7,1.0,2.1,1.30,2.26,1.96,2.82,2.48,2.97,3.0,2.99,3.52,2.92,3.81,2.81,4.26,2.68,4.92,2.62,5.67,2.63,6.41,2.78,7.07,2.71,7.74,2.61,8.48,2.52,9.0,2.41,8.77,2.24,8.60,2.00],
[8,1.1,1.98,1.37,2.14,2.04,2.74,2.48,2.87,3.0,2.90,3.52,2.84,3.89,2.72,4.48,2.60,5.22,2.57,5.96,2.63,6.55,2.71,7.22,2.65,8.03,2.54,8.70,2.42,8.63,2.24,8.40,2.00],
[9,1.44,2.0,2.11,2.67,2.55,2.79,3.0,2.81,3.59,2.75,4.04,2.63,4.70,2.55,5.37,2.52,6.11,2.57,6.63,2.62,7.29,2.57,8.11,2.46,8.40,2.32,8.18,2.00],
[10,1.59,2.0,2.18,2.60,2.63,2.72,3.0,2.74,3.59,2.68,4.11,2.56,4.70,2.51,5.37,2.47,6.11,2.53,6.63,2.56,7.37,2.51,8.03,2.39,8.18,2.26,8.0,2.00],
[11,1.74,2.0,2.26,2.53,2.63,2.64,3.0,2.66,3.67,2.61,4.18,2.52,4.78,2.46,5.29,2.43,6.03,2.47,6.63,2.50,7.37,2.44,7.96,2.32,7.81,2.00],
[12,1.84,2.0,2.33,2.46,2.70,2.58,3.07,2.59,3.67,2.54,4.33,2.44,4.92,2.35,4.97,2.24,4.85,2.00],
[12,5.66,2.00,5.66,2.27,5.96,2.38,6.55,2.43,7.22,2.39,7.74,2.27,7.70,2.00],
[13,1.96,2.0,2.41,2.41,2.78,2.51,3.07,2.53,3.67,2.47,4.18,2.41,4.63,2.29,4.70,2.00],
[13,5.84,2.00,5.81,2.26,6.18,2.35,6.70,2.37,7.29,2.32,7.56,2.21,7.52,2.00],
[14,2.04,2.0,2.48,2.35,2.78,2.45,3.07,2.47,3.67,2.41,4.11,2.34,4.48,2.22,4.51,2.00],
[14,6.08,2.00,6.11,2.22,6.48,2.30,7.0,2.29,7.32,2.21,7.37,2.00],
[15,2.18,2.0,2.55,2.29,3.07,2.41,3.67,2.36,4.04,2.26,4.30,2.00],
[15,6.33,2.00,6.41,2.19,6.78,2.24,7.18,2.19,7.22,2.00],
[16,2.33,2.0,2.63,2.24,3.07,2.34,3.59,2.29,3.96,2.19,4.11,2.00],
[16,6.48,2.00,6.78,2.15,7.07,2.00],
[17,2.44,2.0,2.70,2.17,3.07,2.26,3.52,2.21,3.92,2.00],
[18,2.55,2.0,3.07,2.18,3.52,2.12,3.71,2.00],
[19,2.70,2.0,3.03,2.08,3.37,2.00],
[10,4.9,1.98,5.0,2.14,5.19,2.25,5.45,2.14,5.6,1.98],
[9,4.93,1.98,5.02,2.12,5.19,2.20,5.4,2.1,5.55,1.98],
[8,4.96,1.98,5.03,2.11,5.19,2.17,5.37,2.11,5.48,1.98],
[7,4.98,1.98,5.05,2.09,5.19,2.14,5.35,2.09,5.45,1.98],
[6,5.0,1.98,5.07,2.08,5.19,2.12,5.33,2.08,5.42,1.98],
[5,5.02,1.98,5.08,2.06,5.19,2.09,5.31,2.06,5.38,1.98],
[4,5.05,1.98,5.1,2.045,5.19,2.07,5.29,2.045,5.35,1.98],
[3,5.07,1.98,5.12,2.035,5.19,2.05,5.27,2.035,5.32,1.98],
[2,5.1,1.98,5.14,2.02,5.19,2.03,5.25,2.02,5.28,1.98],
];

const panelContours = [contours1, contours2, contours3, contours4, contours5, contours6, contours7, contours8];
const panelNames = ["1", "2", "3", "4", "5", "6", "7", "8"];
const frameColors = ["#0a7a0a", "#0acc0a", "#0f9ff5", "#808080", "#9a00c0", "#ffc830", "#ff8400", "#ff0000"];
const nameColors = ["#0a7a0a", "#0a7a0a", "#0f9ff5", "#808080", "#9a00c0", "#ffc830", "#f57c00", "#ff0000"];
const majorK = [2, 4, 6, 8, 10, 12];
const minorK = [3, 5, 7, 9, 11];
const majorR = [2.2, 2.4, 2.6, 2.8, 3.0, 3.2, 3.4, 3.6, 3.8];
const minorR = [2.1, 2.3, 2.5, 2.7, 2.9, 3.1, 3.3, 3.5, 3.7, 3.9];
const bandLabels = ["Cu-O", "Cu-Cu", "Cu-Al/Si"];
const colorbarLevels = 20;
const colorbarTickCount = 11;
const maxLevel = 19;

const panelX = [122.5, 399.5, 675.5, 951.5];
const panelY = [111.5, 506.5];
const PW = 270;
const PH = 390;
const padL = 120.5;
const padT = 15.5;

function levelColor(l: number): string {
  const t = l / maxLevel;
  const v = Math.round(190 * (1 - t));
  return `rgb(${v},${v},${Math.round(190 + 65 * t)})`;
}

function toDataset(c: number[]) {
  const level = c[0];
  const pts: { x: number; y: number }[] = [];
  for (let i = 1; i + 1 < c.length; i += 2) pts.push({ x: c[i], y: c[i + 1] });
  const first = pts[0];
  const last = pts[pts.length - 1];
  const closed = first.x === last.x && first.y === last.y;
  if (!closed) {
    pts.unshift({ x: first.x, y: 1.8 });
    pts.push({ x: last.x, y: 1.8 });
  }
  return {
    data: pts,
    showLine: true,
    pointRadius: 0,
    fill: "shape" as const,
    backgroundColor: levelColor(level),
    borderColor: "rgba(15,15,25,0.95)",
    borderWidth: 1.1,
    tension: 0.38,
  };
}

function noPad(s: any) {
  s.paddingLeft = 0;
  s.paddingRight = 0;
  s.paddingTop = 0;
  s.paddingBottom = 0;
}

function Panel({ index }: { index: number }) {
  const ref = useRef<HTMLCanvasElement>(null);
  const col = index % 4;
  const row = index < 4 ? 0 : 1;
  const bottomPad = row === 1 ? 96 : 12;
  const width = padL + PW + 15.5;
  const height = padT + PH + bottomPad;
  useEffect(() => {
    const color = frameColors[index];
    const panelPlugin = {
      id: "panelFrame",
      beforeDatasetsDraw(chart: any) {
        const { ctx, chartArea: a } = chart;
        ctx.save();
        ctx.fillStyle = "rgb(190,190,190)";
        ctx.fillRect(a.left, a.top, a.right - a.left, a.bottom - a.top);
        ctx.restore();
      },
      afterDatasetsDraw(chart: any) {
        const { ctx, chartArea: a, scales } = chart;
        ctx.save();
        ctx.strokeStyle = color;
        ctx.lineWidth = 5;
        ctx.strokeRect(a.left, a.top, a.right - a.left, a.bottom - a.top);
        ctx.lineWidth = 4.6;
        const seg = (x1: number, y1: number, x2: number, y2: number) => {
          ctx.beginPath();
          ctx.moveTo(x1, y1);
          ctx.lineTo(x2, y2);
          ctx.stroke();
        };
        const drawX = (vals: number[], inner: number, outerLen: number) => {
          for (const v of vals) {
            const x = scales.x.getPixelForValue(v);
            seg(x, a.top, x, a.top + inner);
            seg(x, a.bottom + outerLen, x, a.bottom - inner);
          }
        };
        const drawY = (vals: number[], inner: number, outerLen: number) => {
          for (const v of vals) {
            const y = scales.y.getPixelForValue(v);
            seg(a.left - outerLen, y, a.left + inner, y);
            seg(a.right, y, a.right - inner, y);
          }
        };
        drawX(majorK, 13, row === 1 ? 13 : 0);
        drawX(minorK, 7, row === 1 ? 6 : 0);
        drawY(majorR, 13, col === 0 ? 13 : 0);
        drawY(minorR, 7, col === 0 ? 6 : 0);
        ctx.restore();
      },
    };
    const chart = new Chart(ref.current as HTMLCanvasElement, {
      type: "scatter",
      data: { datasets: [...panelContours[index]].reverse().map(toDataset) },
      plugins: [panelPlugin],
      options: {
        animation: false,
        responsive: false,
        layout: { padding: { top: padT, right: 15.5, left: 0, bottom: 0 } },
        plugins: { legend: { display: false }, tooltip: { enabled: false } },
        scales: {
          x: {
            type: "linear",
            min: 1,
            max: 13,
            grid: { display: false, drawTicks: false },
            border: { display: false },
            ticks: {
              display: row === 1,
              stepSize: 1,
              autoSkip: false,
              maxRotation: 0,
              padding: 22,
              color: "#000",
              font: { family: "'Liberation Sans'", size: 28, weight: "bold" },
              callback: (v: any) => (majorK.includes(Number(v)) ? String(v) : ""),
            },
            title: {
              display: row === 1,
              text: "k (Å⁻¹)",
              color: "#000",
              font: { family: "'Liberation Sans'", size: 39 },
              padding: { top: 0, bottom: -7 },
            },
            afterFit(s: any) {
              s.height = bottomPad;
              noPad(s);
            },
          },
          y: {
            type: "linear",
            min: 2,
            max: 4,
            grid: { display: false, drawTicks: false },
            border: { display: false },
            ticks: {
              display: col === 0,
              stepSize: 0.2,
              autoSkip: false,
              padding: 21,
              color: "#000",
              font: { family: "'Liberation Sans'", size: 29, weight: "bold" },
              callback: (v: any) => (row === 1 && Number(v) > 3.9 ? "" : Number(v).toFixed(1)),
            },
            title: {
              display: col === 0,
              text: "R (Å)",
              color: "#000",
              font: { family: "'Liberation Sans'", size: 39 },
              padding: { top: 8, bottom: 0 },
            },
            afterFit(s: any) {
              s.width = padL;
              noPad(s);
            },
          },
        },
      } as any,
    });
    return () => chart.destroy();
  }, [index]);
  const left = panelX[col] - padL;
  const top = panelY[row] - padT;
  const canvasStyle: React.CSSProperties = { position: "absolute", left, top, width, height };
  return <canvas ref={ref} width={width} height={height} style={canvasStyle} />;
}

const boxBase: React.CSSProperties = {
  position: "absolute",
  color: "#fff",
  fontFamily: "'Liberation Sans'",
  fontWeight: "bold",
  fontSize: 21,
  display: "flex",
  alignItems: "center",
  justifyContent: "center",
};

function Bands({ col }: { col: number }) {
  const x = Math.floor(panelX[col]);
  return (
    <>
      <div style={{ ...boxBase, left: x + 34, top: 15, width: 90, height: 45, background: "linear-gradient(#a89b7a 0 49%, #edc673 49% 100%)" }}>{bandLabels[2]}</div>
      <div style={{ ...boxBase, left: x, top: 62, width: 90, height: 43, background: "#fb5a5f" }}>{bandLabels[0]}</div>
      <div style={{ ...boxBase, left: x + 95, top: 62, width: 112, height: 43, background: "#5aa85b" }}>{bandLabels[1]}</div>
    </>
  );
}

function NameTag({ index }: { index: number }) {
  const col = index % 4;
  const row = index < 4 ? 0 : 1;
  return (
    <div
      style={{
        position: "absolute",
        left: panelX[col] + 219,
        top: panelY[row] + 21,
        width: 25,
        height: 54,
        background: "#fff",
        color: nameColors[index],
        fontFamily: "'Liberation Sans'",
        fontWeight: "bold",
        fontSize: 40,
        display: "flex",
        alignItems: "center",
        justifyContent: "center",
      }}
    >
      {panelNames[index]}
    </div>
  );
}

function ColorBar() {
  const bands = [];
  for (let i = 0; i < colorbarLevels; i++) {
    bands.push(<div key={i} style={{ flex: 1, background: levelColor(colorbarLevels - 1 - i) }} />);
  }
  const ticks = [];
  for (let i = 0; i < colorbarTickCount; i++) {
    ticks.push(
      <div
        key={i}
        style={{ position: "absolute", left: 1287, top: 270 + (i * 492) / (colorbarTickCount - 1), width: 2, height: 1, background: "#777" }}
      />
    );
  }
  const label: React.CSSProperties = {
    position: "absolute",
    left: 1251,
    width: 60,
    textAlign: "center",
    fontFamily: "'Liberation Sans'",
    fontWeight: "bold",
    fontSize: 29,
    color: "#000",
    lineHeight: "30px",
  };
  return (
    <>
      <div style={{ position: "absolute", left: 1277, top: 270, width: 9, height: 492, display: "flex", flexDirection: "column" }}>{bands}</div>
      {ticks}
      <div style={{ ...label, top: 237 }}>1.0</div>
      <div style={{ ...label, top: 762 }}>0.0</div>
    </>
  );
}

export default function App() {
  return (
    <div style={{ position: "absolute", left: 0, top: 0, width: 1301, height: 993, overflow: "hidden", background: "#fff" }}>
      {panelContours.map((_, i) => (
        <Panel key={i} index={i} />
      ))}
      {panelContours.map((_, i) => (
        <NameTag key={i} index={i} />
      ))}
      {panelX.map((_, c) => (
        <Bands key={c} col={c} />
      ))}
      <ColorBar />
    </div>
  );
}
